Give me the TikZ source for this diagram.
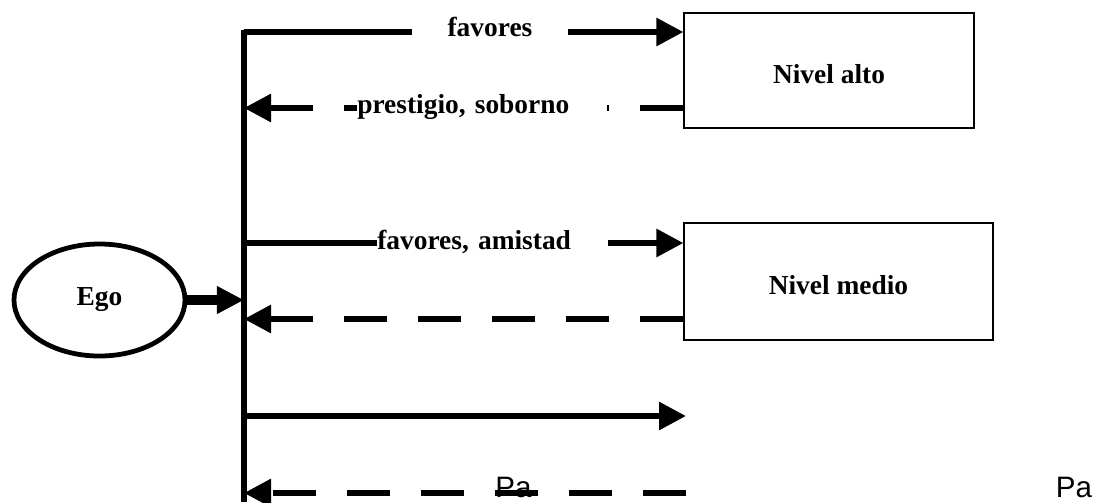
\documentclass[tikz,border=0pt]{standalone}
\usepackage{fontspec}
\setmainfont{Liberation Serif}
\newfontfamily\arialfont{Liberation Sans}
\usetikzlibrary{arrows.meta,shapes.geometric}
\tikzset{
  fleche/.style={line width=4.2pt,-{Triangle[length=0.675cm,width=0.675cm]}},
  retour/.style={fleche,dash pattern=on 1.075cm off 0.775cm},
  niveau/.style={draw,line width=0.8pt,text height=0.65cm,text depth=0pt,
    font=\bfseries\fontsize{19.5}{23}\selectfont},
  etiq/.style={fill=white,inner xsep=0pt,inner ysep=3pt,
    font=\bfseries\fontsize{19.5}{23}\selectfont},
}
\begin{document}
\begin{tikzpicture}[x=0.025cm,y=-0.025cm]
\useasboundingbox (0,0) rectangle (1098,502);
\def\xT{244};
\def\xF{686};
% les trois acteurs
\node[ellipse,draw,line width=3.4pt,minimum width=4.275cm,minimum height=2.8cm,
  font=\bfseries\fontsize{19.5}{23}\selectfont] (ego) at (99.5,300) {Ego};
\node[niveau,minimum width=7.25cm,minimum height=2.875cm] (alto) at (829,70.5) {Nivel alto};
\node[niveau,minimum width=7.725cm,minimum height=2.925cm] (medio) at (838.5,281.5) {Nivel medio};
% points sur le tronc
\coordinate (haut) at (\xT,29.5);
\coordinate (bas) at (\xT,502);
\coordinate (tA) at (\xT,32);
\coordinate (tB) at (\xT,108);
\coordinate (tC) at (\xT,243);
\coordinate (tD) at (\xT,319);
\coordinate (tE) at (\xT,416);
\coordinate (tF) at (\xT,493);
\coordinate (tEgo) at (\xT,300);
\coordinate (fE) at (\xF,416);
\coordinate (fF) at (\xF,493);
\draw[line width=4pt] (bas) -- (haut);
\draw[line width=6.5pt,-{Triangle[length=0.675cm,width=0.65cm]}] (ego.east) -- (tEgo);
% echanges
\draw[fleche] (tA) -- (tA -| alto.west);
\draw[retour] (tB -| alto.west) -- (tB);
\draw[fleche] (tC) -- (tC -| medio.west);
\draw[retour] (tD -| medio.west) -- (tD);
\draw[fleche] (tE) -- (fE);
\draw[retour] (fF) -- (tF);
% etiquettes
\node[etiq,text width=3.875cm,align=center,anchor=base] (lA) at (490,36) {favores};
\node[etiq,text width=6.25cm,align=left,anchor=base west] (lB) at (357,113) {prestigio, soborno};
\node[etiq,text width=5.775cm,align=left,anchor=base west] (lC) at (377,249) {favores, amistad};
\node[font=\arialfont\fontsize{21}{25}\selectfont,inner sep=0pt,anchor=base] (pa1) at (513.5,497) {Pa};
\node[font=\arialfont\fontsize{21}{25}\selectfont,inner sep=0pt,anchor=base] (pa2) at (1074,497) {Pa};
\end{tikzpicture}
\end{document}
